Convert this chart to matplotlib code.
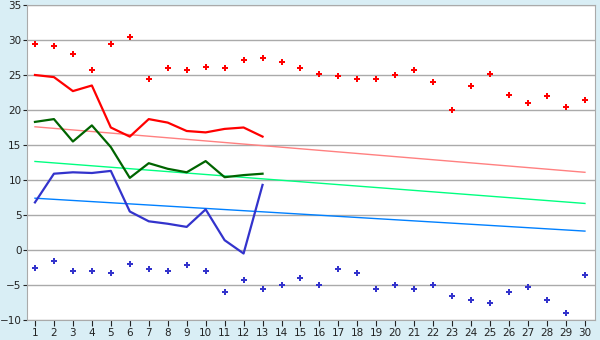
import numpy as np
import matplotlib
matplotlib.use("Agg")
import matplotlib.pyplot as plt

# day index
days = list(range(1, 31))
days13 = list(range(1, 14))

# upper points (red) and lower points (blue)
redPts = [29.5, 29.2, 27.95, 25.7, 29.4, 30.5, 24.5, 25.95, 25.7, 26.1,
          25.95, 27.1, 27.5, 26.8, 25.95, 25.1, 24.8, 24.4, 24.4, 24.95,
          25.7, 23.95, 20.0, 23.5, 25.1, 22.2, 20.95, 21.95, 20.4, 21.5]
bluePts = [-2.5, -1.6, -3.0, -3.0, -3.3, -2.05, -2.7, -3.0, -2.2, -3.0,
           -6.05, -4.3, -5.6, -5.05, -4.05, -5.05, -2.7, -3.3, -5.6, -5.0,
           -5.6, -5.0, -6.6, -7.2, -7.5, -6.05, -5.3, -7.2, -9.05, -3.5]

# lines for first 13 days
redLine = [25.0, 24.7, 22.7, 23.5, 17.5, 16.2, 18.7, 18.2, 17.0, 16.8, 17.3, 17.5, 16.2]
greenLine = [18.3, 18.7, 15.5, 17.8, 14.7, 10.3, 12.4, 11.6, 11.1, 12.7, 10.4, 10.7, 10.9]
blueLine = [6.8, 10.9, 11.1, 11.0, 11.3, 5.5, 4.1, 3.75, 3.3, 5.8, 1.4, -0.5, 9.3]

# trend lines: value at day 1 and day 30
trendX = [1, 30]
redTrend = [17.6, 11.1]
greenTrend = [12.65, 6.65]
blueTrend = [7.4, 2.7]

bgColor = '#D9EEF5'
gridColor = '#AAAAAA'

fig = plt.figure(figsize=(6, 3.4), dpi=100, facecolor=bgColor)
ax = fig.add_axes([27/600, 20/340, 568/600, 315/340])
ax.set_facecolor('white')

ax.plot(trendX, redTrend, color='#FF8080', lw=1, zorder=2)
ax.plot(trendX, greenTrend, color='#00FF80', lw=1, zorder=2)
ax.plot(trendX, blueTrend, color='#0080FF', lw=1, zorder=2)

ax.plot(days13, redLine, color='#FF0000', lw=1.6, zorder=3)
ax.plot(days13, greenLine, color='#006400', lw=1.6, zorder=3)
ax.plot(days13, blueLine, color='#3333CC', lw=1.6, zorder=3)

ax.plot(days, redPts, ls='none', marker='P', ms=5, color='#FF0000', mew=0, zorder=4)
ax.plot(days, bluePts, ls='none', marker='P', ms=5, color='#3333CC', mew=0, zorder=4)

ax.set_xlim(0.58, 30.53)
ax.set_ylim(-10, 35)
ax.set_yticks(range(-10, 36, 5))
ax.set_xticks(days)
ax.grid(True, axis='y', color=gridColor, lw=1, zorder=0)
for s in ax.spines.values():
    s.set_color(gridColor)
ax.tick_params(axis='y', color='#222222', labelcolor='#222222', length=3, labelsize=7.5, pad=1)
ax.tick_params(axis='x', color='#222222', labelcolor='#222222', length=4, labelsize=7.5, pad=1.5)

plt.savefig('out.png', dpi=100, facecolor=bgColor)
